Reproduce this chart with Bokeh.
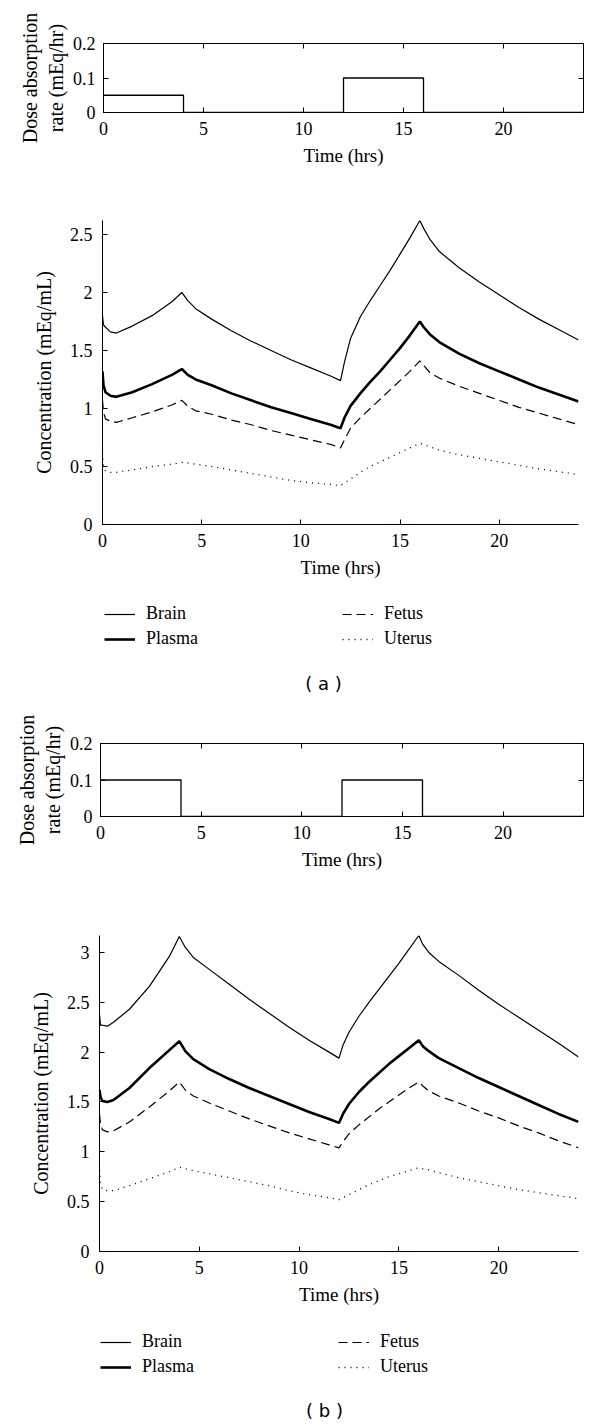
from bokeh.plotting import figure
from bokeh.models import Range1d, FixedTicker, LinearAxis, Legend, LegendItem, Label
from bokeh.embed import file_html
from bokeh.resources import INLINE

# ---------------- data ----------------
dose_t = [0, 4, 12, 16, 24]
dose_rate_a = [0.05, 0.0, 0.1, 0.0, 0.0]
dose_rate_b = [0.1, 0.0, 0.1, 0.0, 0.0]

t = [0, 0.05, 0.15, 0.4, 0.7, 1.5, 2.5, 3.5, 4.0, 4.3, 4.7, 5.5, 6.5, 7.5, 8.5, 9.5,
     10.5, 11.5, 12.0, 12.2, 12.5, 13.0, 13.5, 14.0, 14.5, 15.0, 15.5, 16.0, 16.2,
     16.5, 17.0, 18.0, 19.0, 20.0, 21.0, 22.0, 23.0, 24.0]

brain_a = [1.80, 1.72, 1.70, 1.66, 1.65, 1.71, 1.80, 1.92, 2.00, 1.93, 1.86, 1.77, 1.67,
           1.58, 1.50, 1.42, 1.35, 1.28, 1.24, 1.40, 1.60, 1.79, 1.93, 2.06, 2.19, 2.33,
           2.47, 2.62, 2.55, 2.46, 2.35, 2.21, 2.09, 1.98, 1.87, 1.77, 1.68, 1.59]
plasma_a = [1.32, 1.20, 1.14, 1.11, 1.10, 1.14, 1.21, 1.29, 1.34, 1.29, 1.25, 1.20, 1.13,
            1.07, 1.01, 0.96, 0.91, 0.86, 0.83, 0.92, 1.02, 1.13, 1.23, 1.32, 1.42, 1.52,
            1.63, 1.75, 1.70, 1.64, 1.57, 1.47, 1.39, 1.32, 1.25, 1.18, 1.12, 1.06]
fetus_a = [1.07, 0.97, 0.91, 0.89, 0.88, 0.92, 0.97, 1.03, 1.07, 1.02, 0.98, 0.95, 0.90,
           0.86, 0.81, 0.77, 0.73, 0.69, 0.66, 0.73, 0.83, 0.92, 1.00, 1.08, 1.16, 1.24,
           1.32, 1.41, 1.37, 1.31, 1.26, 1.19, 1.13, 1.07, 1.01, 0.96, 0.91, 0.86]
uterus_a = [0.62, 0.50, 0.46, 0.45, 0.45, 0.47, 0.50, 0.52, 0.535, 0.53, 0.52, 0.50, 0.47,
            0.44, 0.41, 0.38, 0.36, 0.345, 0.335, 0.36, 0.39, 0.45, 0.50, 0.54, 0.58, 0.62,
            0.66, 0.70, 0.69, 0.67, 0.64, 0.60, 0.57, 0.54, 0.51, 0.48, 0.455, 0.43]

brain_b = [2.38, 2.27, 2.27, 2.26, 2.30, 2.43, 2.66, 2.96, 3.16, 3.05, 2.95, 2.83, 2.68,
           2.53, 2.39, 2.25, 2.12, 2.00, 1.94, 2.07, 2.20, 2.36, 2.50, 2.63, 2.76, 2.89,
           3.03, 3.17, 3.08, 3.00, 2.91, 2.77, 2.62, 2.48, 2.35, 2.22, 2.09, 1.95]
plasma_b = [1.62, 1.55, 1.51, 1.50, 1.52, 1.64, 1.84, 2.02, 2.11, 2.01, 1.93, 1.83, 1.73,
            1.64, 1.56, 1.48, 1.40, 1.33, 1.29, 1.38, 1.48, 1.60, 1.70, 1.79, 1.88, 1.96,
            2.04, 2.12, 2.06, 2.01, 1.94, 1.84, 1.74, 1.65, 1.56, 1.47, 1.38, 1.30]
fetus_b = [1.38, 1.28, 1.22, 1.20, 1.21, 1.30, 1.45, 1.61, 1.70, 1.62, 1.56, 1.49, 1.41,
           1.33, 1.26, 1.19, 1.13, 1.07, 1.04, 1.10, 1.18, 1.27, 1.35, 1.43, 1.50, 1.57,
           1.64, 1.70, 1.66, 1.61, 1.56, 1.49, 1.41, 1.34, 1.26, 1.19, 1.11, 1.04]
uterus_b = [0.82, 0.68, 0.62, 0.61, 0.61, 0.66, 0.73, 0.80, 0.845, 0.83, 0.81, 0.78, 0.74,
            0.70, 0.66, 0.61, 0.57, 0.54, 0.52, 0.54, 0.57, 0.62, 0.67, 0.71, 0.75, 0.78,
            0.81, 0.84, 0.83, 0.82, 0.79, 0.74, 0.70, 0.66, 0.62, 0.59, 0.56, 0.53]

series_names = ["Brain", "Plasma", "Fetus", "Uterus"]

x_ticks = [0, 5, 10, 15, 20]
x_tick_labels = ["0", "5", "10", "15", "20"]
dose_ticks = [0, 0.1, 0.2]
dose_tick_labels = ["0", "0.1", "0.2"]
conc_a_ticks = [0, 0.5, 1, 1.5, 2, 2.5]
conc_a_tick_labels = ["0", "0.5", "1", "1.5", "2", "2.5"]
conc_b_ticks = [0, 0.5, 1, 1.5, 2, 2.5, 3]
conc_b_tick_labels = ["0", "0.5", "1", "1.5", "2", "2.5", "3"]

x_label = "Time (hrs)"
dose_label = "Dose absorption\nrate (mEq/hr)"
conc_label = "Concentration (mEq/mL)"
panel_tags = ["( a )", "( b )"]

SERIF = "Liberation Serif"
W = 592

STYLES = [dict(line_width=1.2),
          dict(line_width=2.6),
          dict(line_width=1.2, line_dash="9 5"),
          dict(line_width=1.3, line_dash="1 5")]


def style_axis(ax, ticks, labels, label_standoff, axis_label_standoff, label_size="19px"):
    ax.ticker = FixedTicker(ticks=ticks)
    ax.major_label_overrides = {k: v for k, v in zip(ticks, labels)}
    ax.major_label_text_font = SERIF
    ax.major_label_text_font_size = "18px"
    ax.major_label_text_color = "black"
    ax.major_label_standoff = label_standoff
    ax.major_tick_in = 5
    ax.major_tick_out = 0
    ax.major_tick_line_color = "black"
    ax.minor_tick_line_color = None
    ax.axis_line_color = "black"
    ax.axis_label_text_font = SERIF
    ax.axis_label_text_font_style = "normal"
    ax.axis_label_text_font_size = label_size
    ax.axis_label_text_color = "black"
    ax.axis_label_standoff = axis_label_standoff


def dose_fig(rate, height, top, bottom, left, right):
    p = figure(width=W, height=height, output_backend="svg", toolbar_location=None,
               x_range=Range1d(0, 24), y_range=Range1d(0, 0.2),
               min_border_top=top, min_border_bottom=bottom,
               min_border_left=left, min_border_right=right)
    p.grid.visible = False
    p.outline_line_color = "black"
    p.outline_line_width = 1
    p.step(dose_t, rate, mode="after", line_color="black", line_width=1.3)
    style_axis(p.xaxis[0], x_ticks, x_tick_labels, 9, 7)
    style_axis(p.yaxis[0], dose_ticks, dose_tick_labels, 8, 3, label_size="20px")
    p.xaxis[0].axis_label = x_label
    p.yaxis[0].axis_label = dose_label
    for loc, ticks in (("above", x_ticks), ("right", dose_ticks)):
        ax = LinearAxis(ticker=FixedTicker(ticks=ticks), major_tick_in=5, major_tick_out=0,
                        minor_tick_line_color=None, axis_line_color=None,
                        major_label_text_font_size="1px", major_label_text_color=None,
                        major_label_standoff=0)
        p.add_layout(ax, loc)
    return p


def conc_fig(ys, ymax, yticks, ylabels, height, top, bottom, left, right):
    p = figure(width=W, height=height, output_backend="svg", toolbar_location=None,
               x_range=Range1d(0, 24), y_range=Range1d(0, ymax),
               min_border_top=top, min_border_bottom=bottom,
               min_border_left=left, min_border_right=right)
    p.grid.visible = False
    p.outline_line_color = None
    for y, st in zip(ys, STYLES):
        p.line(t, y, line_color="black", **st)
    style_axis(p.xaxis[0], x_ticks, x_tick_labels, 9, 7)
    style_axis(p.yaxis[0], yticks, ylabels, 10, 12, label_size="20px")
    p.xaxis[0].axis_label = x_label
    p.yaxis[0].axis_label = conc_label
    return p


def legend_fig(ys, height, leg_y, leg1_x, leg2_x, tag, tag_x, tag_y):
    # the series are drawn here only as legend keys, outside the visible range
    p = figure(width=W, height=height, output_backend="svg", toolbar_location=None,
               x_range=Range1d(100, 101), y_range=Range1d(100, 101),
               x_axis_type=None, y_axis_type=None,
               min_border_top=0, min_border_bottom=0,
               min_border_left=0, min_border_right=0)
    p.grid.visible = False
    p.outline_line_color = None
    rs = [p.line(t, y, line_color="black", **st) for y, st in zip(ys, STYLES)]
    common = dict(padding=0, margin=0, spacing=4, glyph_width=31, glyph_height=20,
                  label_height=20, label_standoff=11, border_line_color=None,
                  background_fill_alpha=0, label_text_font=SERIF,
                  label_text_font_size="18px", label_text_color="black")
    leg1 = Legend(items=[LegendItem(label=series_names[0], renderers=[rs[0]]),
                         LegendItem(label=series_names[1], renderers=[rs[1]])],
                  location=(leg1_x, leg_y), **common)
    leg2 = Legend(items=[LegendItem(label=series_names[2], renderers=[rs[2]]),
                         LegendItem(label=series_names[3], renderers=[rs[3]])],
                  location=(leg2_x, leg_y), **common)
    p.add_layout(leg1)
    p.add_layout(leg2)
    p.add_layout(Label(x=tag_x, y=tag_y, x_units="screen", y_units="screen", text=tag,
                       text_align="center", text_baseline="middle",
                       text_font="DejaVu Sans", text_font_size="18px", text_color="black"))
    return p


pa1 = dose_fig(dose_rate_a, 175, 43, 63, 103, 9)
pa2 = conc_fig((brain_a, plasma_a, fetus_a, uterus_a), 2.62, conc_a_ticks, conc_a_tick_labels,
               411, 45, 62, 102, 14)
la = legend_fig((brain_a, plasma_a, fetus_a, uterus_a), 114, 51, 104, 342,
                panel_tags[0], 323, 17)
pb1 = dose_fig(dose_rate_b, 180, 43, 64, 100, 9)
pb2 = conc_fig((brain_b, plasma_b, fetus_b, uterus_b), 3.17, conc_b_ticks, conc_b_tick_labels,
               432, 55, 61, 99, 14)
lb = legend_fig((brain_b, plasma_b, fetus_b, uterus_b), 112, 47, 100, 338,
                panel_tags[1], 324, 14)

open("out.html", "w").write(file_html([pa1, pa2, la, pb1, pb2, lb], INLINE))
